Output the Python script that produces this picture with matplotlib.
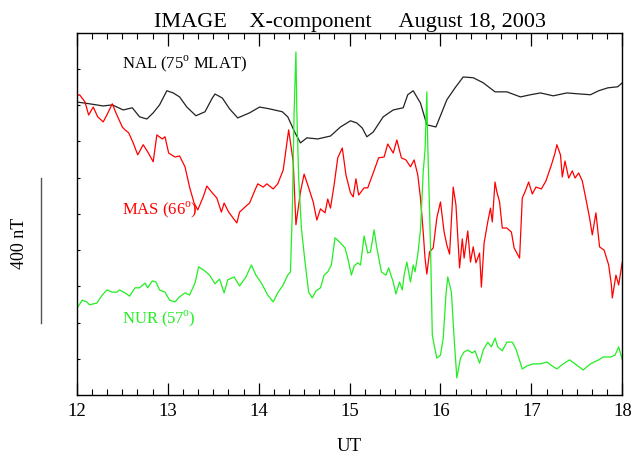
import matplotlib
matplotlib.use("Agg")
import matplotlib.pyplot as plt
import matplotlib.transforms as mtransforms
from matplotlib.ticker import MultipleLocator, NullFormatter

plt.rcParams["font.family"] = ["Liberation Serif", "DejaVu Serif"]
plt.rcParams["mathtext.fontset"] = "custom"
plt.rcParams["mathtext.rm"] = "Liberation Serif"

# X-component traces (UT hours, nT on a shared stacked scale)
nal_ut = [12.00, 12.14, 12.29, 12.39, 12.51, 12.61, 12.69, 12.77, 12.84, 12.91,
          12.99, 13.06, 13.13, 13.21, 13.31, 13.41, 13.49, 13.52, 13.60, 13.68,
          13.77, 13.90, 14.01, 14.12, 14.26, 14.32, 14.40, 14.46, 14.53, 14.65,
          14.79, 14.90, 15.01, 15.08, 15.14, 15.19, 15.26, 15.37, 15.48, 15.59,
          15.64, 15.70, 15.78, 15.85, 15.95, 16.07, 16.16, 16.25, 16.36, 16.47,
          16.60, 16.73, 16.88, 16.99, 17.10, 17.24, 17.39, 17.54, 17.65, 17.74,
          17.84, 17.95, 18.00]
nal_nt = [809, 804, 798, 801, 787, 793, 768, 762, 779, 801,
          840, 834, 823, 795, 771, 782, 820, 831, 820, 790,
          765, 779, 795, 790, 782, 768, 724, 696, 710, 707,
          715, 740, 757, 751, 737, 713, 726, 768, 787, 793,
          829, 840, 806, 746, 740, 815, 848, 878, 876, 862,
          837, 837, 823, 829, 834, 826, 834, 831, 829, 840,
          848, 851, 862]

mas_ut = [12.00, 12.03, 12.09, 12.13, 12.18, 12.23, 12.29, 12.33, 12.39, 12.43,
          12.50, 12.53, 12.57, 12.62, 12.67, 12.73, 12.78, 12.84, 12.88, 12.94,
          12.97, 13.01, 13.08, 13.13, 13.19, 13.24, 13.29, 13.33, 13.39, 13.43,
          13.49, 13.54, 13.59, 13.62, 13.67, 13.76, 13.79, 13.85, 13.90, 13.96,
          13.99, 14.05, 14.09, 14.16, 14.21, 14.27, 14.31, 14.33, 14.38, 14.41,
          14.46, 14.50, 14.54, 14.60, 14.64, 14.68, 14.73, 14.76, 14.79, 14.83,
          14.87, 14.92, 14.96, 15.01, 15.04, 15.07, 15.10, 15.16, 15.20, 15.26,
          15.32, 15.38, 15.42, 15.48, 15.52, 15.57, 15.62, 15.67, 15.71, 15.75,
          15.78, 15.81, 15.83, 15.85, 15.88, 15.92, 15.96, 16.00, 16.04, 16.07,
          16.10, 16.14, 16.17, 16.21, 16.24, 16.26, 16.30, 16.33, 16.36, 16.39,
          16.43, 16.45, 16.48, 16.52, 16.55, 16.57, 16.60, 16.62, 16.65, 16.68,
          16.73, 16.78, 16.81, 16.87, 16.90, 16.93, 16.97, 17.01, 17.05, 17.11,
          17.16, 17.22, 17.26, 17.28, 17.32, 17.34, 17.37, 17.41, 17.45, 17.48,
          17.52, 17.56, 17.60, 17.64, 17.67, 17.71, 17.75, 17.80, 17.85, 17.88,
          17.89, 17.93, 17.96, 18.00]
mas_nt = [826, 829, 809, 773, 795, 768, 754, 773, 804, 779,
          740, 732, 724, 696, 663, 691, 671, 644, 718, 707,
          713, 668, 657, 660, 630, 574, 530, 511, 547, 577,
          558, 544, 505, 530, 505, 475, 505, 519, 530, 566,
          583, 574, 583, 569, 583, 621, 696, 732, 644, 470,
          561, 610, 580, 533, 483, 514, 503, 541, 516, 580,
          655, 682, 608, 558, 547, 597, 552, 572, 572, 613,
          655, 657, 693, 668, 704, 655, 649, 630, 649, 608,
          544, 450, 378, 334, 395, 406, 489, 533, 450, 414,
          389, 574, 525, 351, 431, 378, 453, 367, 409, 365,
          392, 298, 420, 478, 516, 478, 588, 561, 533, 461,
          461, 450, 406, 378, 544, 561, 588, 555, 574, 569,
          591, 635, 668, 691, 663, 602, 646, 599, 619, 599,
          613, 591, 541, 489, 442, 503, 409, 400, 359, 304,
          268, 331, 304, 367]

nur_ut = [12.01, 12.06, 12.11, 12.14, 12.22, 12.28, 12.33, 12.39, 12.44, 12.47,
          12.53, 12.58, 12.64, 12.69, 12.75, 12.78, 12.83, 12.87, 12.91, 12.97,
          13.02, 13.08, 13.13, 13.19, 13.24, 13.30, 13.34, 13.41, 13.46, 13.52,
          13.57, 13.62, 13.66, 13.73, 13.79, 13.86, 13.92, 13.97, 14.03, 14.10,
          14.16, 14.21, 14.27, 14.32, 14.35, 14.37, 14.39, 14.41, 14.42, 14.44,
          14.47, 14.51, 14.55, 14.59, 14.63, 14.68, 14.72, 14.76, 14.80, 14.84,
          14.90, 14.95, 14.98, 15.02, 15.05, 15.09, 15.12, 15.16, 15.20, 15.23,
          15.27, 15.30, 15.35, 15.40, 15.43, 15.48, 15.51, 15.55, 15.58, 15.60,
          15.63, 15.67, 15.70, 15.72, 15.75, 15.78, 15.81, 15.83, 15.85, 15.86,
          15.89, 15.91, 15.93, 15.96, 16.00, 16.03, 16.06, 16.08, 16.12, 16.15,
          16.18, 16.22, 16.26, 16.30, 16.35, 16.38, 16.43, 16.47, 16.52, 16.56,
          16.60, 16.63, 16.68, 16.73, 16.79, 16.83, 16.90, 16.95, 17.02, 17.10,
          17.17, 17.23, 17.28, 17.35, 17.42, 17.48, 17.57, 17.65, 17.74, 17.79,
          17.87, 17.92, 17.96, 18.00]
nur_nt = [243, 262, 257, 249, 254, 276, 290, 284, 284, 290,
          282, 273, 296, 296, 309, 296, 315, 312, 290, 284,
          262, 257, 271, 282, 276, 309, 354, 342, 331, 307,
          320, 282, 318, 326, 301, 326, 359, 331, 309, 276,
          257, 282, 304, 331, 340, 505, 782, 947, 782, 599,
          461, 367, 284, 268, 287, 296, 331, 340, 359, 434,
          420, 406, 378, 331, 356, 365, 359, 439, 392, 395,
          456, 406, 340, 331, 351, 312, 279, 312, 290, 331,
          367, 312, 359, 340, 387, 456, 616, 677, 837, 691,
          414, 166, 138, 102, 110, 157, 276, 326, 284, 157,
          47, 102, 119, 124, 116, 122, 88, 124, 146, 133,
          157, 133, 122, 146, 146, 127, 72, 80, 86, 86,
          91, 80, 72, 86, 97, 86, 69, 86, 97, 105,
          105, 110, 133, 97]

fig = plt.figure(figsize=(6.35, 4.62), dpi=100)
ax = fig.add_axes([0.121, 0.145, 0.859, 0.784])

ax.plot(nal_ut, nal_nt, color="#222222", lw=0.9)
ax.plot(mas_ut, mas_nt, color="#ff0000", lw=0.9)
ax.plot(nur_ut, nur_nt, color="#22ee22", lw=0.9)

ax.set_xlim(12, 18)
ax.set_ylim(0, 1000)

ax.xaxis.set_major_locator(MultipleLocator(1))
ax.xaxis.set_minor_locator(MultipleLocator(1 / 6))
ax.yaxis.set_major_locator(MultipleLocator(100))
ax.yaxis.set_major_formatter(NullFormatter())
ax.tick_params(axis="x", which="both", direction="in", top=True, labelsize=13.5,
               pad=6)
ax.tick_params(axis="x", which="major", length=9, width=0.9)
ax.tick_params(axis="x", which="minor", length=4.5, width=0.8)
ax.tick_params(axis="y", which="major", direction="in", length=2.5, width=0.8,
               left=True, right=False)
for s in ax.spines.values():
    s.set_linewidth(1.0)

ax.set_title("IMAGE    X-component     August 18, 2003", fontsize=16, pad=4)
ax.set_xlabel("UT", fontsize=13.5, labelpad=13)

# station labels
ax.text(12.5, 915, "NAL (75$^{\\rm o}$ MLAT)", fontsize=12, color="black",
        va="center")
ax.text(12.5, 512, "MAS (66$^{\\rm o}$)", fontsize=12, color="#ff0000",
        va="center")
ax.text(12.5, 210, "NUR (57$^{\\rm o}$)", fontsize=12, color="#22ee22",
        va="center")

# 400 nT scale bar outside the left axis
trans = mtransforms.blended_transform_factory(ax.transAxes, ax.transData)
ax.plot([-0.066, -0.066], [200, 600], color="#555555", lw=1.0,
        transform=trans, clip_on=False)
ax.text(-0.105, 420, "400 nT", rotation=90, fontsize=13, ha="center",
        va="center", transform=trans)

fig.savefig("out.png", dpi=100)
